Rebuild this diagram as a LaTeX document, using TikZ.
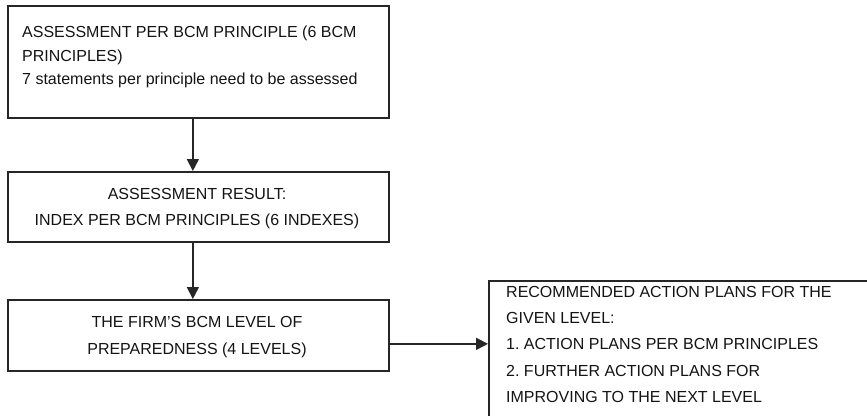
\documentclass[tikz,border=0pt]{standalone}
\usepackage{fontspec}
\setmainfont{Liberation Sans}
\usetikzlibrary{arrows.meta}
\frenchspacing

\tikzset{
  stage/.style={draw=black!85, line width=1.7pt, fill=white, inner sep=0pt, anchor=north west},
  label/.style={inner sep=0pt, text=black!92},
  flow/.style={draw=black!85, line width=1.6pt, -{Triangle[length=12pt,width=12pt]}},
}

\begin{document}
\begin{tikzpicture}[x=1pt, y=-1pt]
  \useasboundingbox (0,0) rectangle (867,415);
  \clip (0,0) rectangle (867,415);

  % the three stages of the assessment
  \node[stage, minimum width=381pt, minimum height=112pt] (b1) at (7,5) {};
  \node[stage, minimum width=381pt, minimum height=70pt]  (b2) at (7,171) {};
  \node[stage, minimum width=381pt, minimum height=71pt]  (b3) at (7,299) {};
  % recommended actions, running off the page edge
  \node[stage, minimum width=420pt, minimum height=160pt] (b4) at (488,280) {};

  % texts
  \node[label, anchor=north west, align=left,
        font=\fontsize{16}{23.3}\selectfont] (t1) at (22,26)
    {ASSESSMENT PER BCM PRINCIPLE (6 BCM\\PRINCIPLES)\\7 statements per principle need to be assessed};
  \node[label, anchor=north, align=center,
        font=\fontsize{16}{26}\selectfont] (t2) at (197,188)
    {ASSESSMENT RESULT:\\INDEX PER BCM PRINCIPLES (6 INDEXES)};
  \node[label, anchor=north, align=center,
        font=\fontsize{16}{27.5}\selectfont] (t3) at (197,316)
    {THE FIRM'S BCM LEVEL OF\\PREPAREDNESS (4 LEVELS)};
  \node[label, anchor=north west, align=left,
        font=\fontsize{16}{26.3}\selectfont] (t4) at (506,286)
    {RECOMMENDED ACTION PLANS FOR THE\\GIVEN LEVEL:\\1. ACTION PLANS PER BCM PRINCIPLES\\2. FURTHER ACTION PLANS FOR\\IMPROVING TO THE NEXT LEVEL};

  % connectors
  \draw[flow] ([xshift=-5.5pt]b1.south) -- ([xshift=-5.5pt]b2.north);
  \draw[flow] ([xshift=-5.5pt]b2.south) -- ([xshift=-5.5pt]b3.north);
  \coordinate (c3) at ([yshift=-8.5pt]b3.east);
  \draw[flow] (c3) -- (c3 -| b4.west);
\end{tikzpicture}
\end{document}
